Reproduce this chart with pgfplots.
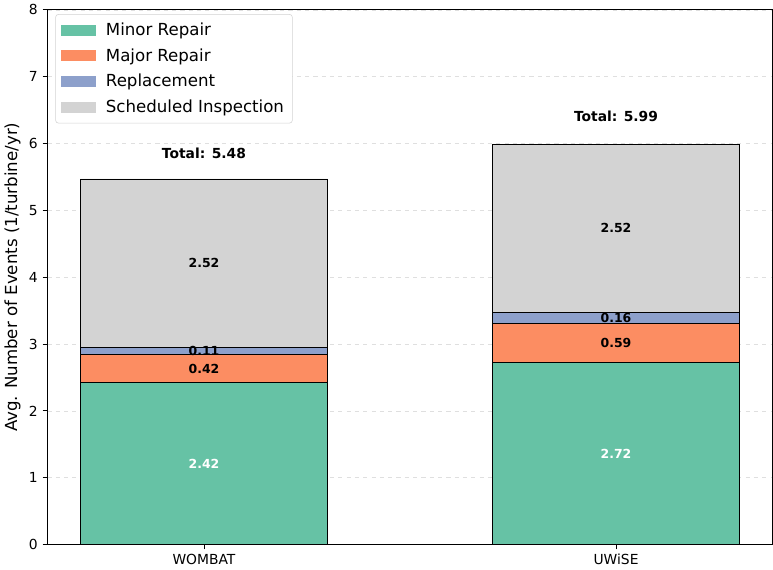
\documentclass[border=0pt]{standalone}
\usepackage{pgfplots}
\pgfplotsset{compat=1.18}
\usepackage{fontspec}
\setmainfont{DejaVu Sans}
\definecolor{cMinor}{HTML}{66C2A5}
\definecolor{cMajor}{HTML}{FC8D62}
\definecolor{cRepl}{HTML}{8DA0CB}
\definecolor{cSched}{HTML}{D3D3D3}
\tikzset{vlab/.style={font=\fontsize{9}{10}\selectfont\bfseries},
         tlab/.style={font=\fontsize{10}{12}\selectfont\bfseries}}
\begin{document}
\begin{tikzpicture}
\begin{axis}[
  scale only axis,
  width=523.5pt, height=386pt,
  ybar stacked,
  bar width=0.6,
  xmin=-0.38, xmax=1.38,
  ymin=0, ymax=8,
  xtick=data,
  xticklabels={WOMBAT,UWiSE},
  ytick={0,1,...,8},
  tick align=outside,
  xtick pos=bottom, ytick pos=left,
  major tick length=3.5pt,
  tick style={black, line width=0.6pt},
  axis line style={line width=0.6pt},
  ticklabel style={font=\fontsize{10}{12}\selectfont},
  /pgf/number format/assume math mode=true,
  ylabel={Avg. Number of Events (1/turbine/yr)},
  ylabel style={font=\fontsize{12}{14}\selectfont, yshift=-1pt},
  ymajorgrids,
  grid style={dashed, gray!25, line width=0.5pt},
  legend style={at={(0.011,0.992)}, anchor=north west, draw=gray!35, rounded corners=2pt,
    font=\fontsize{12}{14}\selectfont, row sep=4pt, inner xsep=4pt, inner ysep=4pt},
  legend cell align=left,
  legend image code/.code={\fill[#1, draw=none, sharp corners] (0pt,-4pt) rectangle (25pt,4pt); \path (30pt,0pt);},
]
\addplot[fill=cMinor, draw=black, line width=0.6pt] coordinates {(0,2.42) (1,2.72)};
\addplot[fill=cMajor, draw=black, line width=0.6pt] coordinates {(0,0.42) (1,0.59)};
\addplot[fill=cRepl, draw=black, line width=0.6pt] coordinates {(0,0.11) (1,0.16)};
\addplot[fill=cSched, draw=black, line width=0.6pt] coordinates {(0,2.52) (1,2.52)};
\legend{Minor Repair, Major Repair, Replacement, Scheduled Inspection}
\coordinate (a1) at (axis cs:0,1.21);
\coordinate (a2) at (axis cs:0,2.63);
\coordinate (a3) at (axis cs:0,2.895);
\coordinate (a4) at (axis cs:0,4.21);
\coordinate (b1) at (axis cs:1,1.36);
\coordinate (b2) at (axis cs:1,3.015);
\coordinate (b3) at (axis cs:1,3.39);
\coordinate (b4) at (axis cs:1,4.73);
\coordinate (ta) at (axis cs:0,5.86);
\coordinate (tb) at (axis cs:1,6.41);
\end{axis}
\node[vlab, white] at (a1) {2.42};
\node[vlab] at (a2) {0.42};
\node[vlab] at (a3) {0.11};
\node[vlab] at (a4) {2.52};
\node[vlab, white] at (b1) {2.72};
\node[vlab] at (b2) {0.59};
\node[vlab] at (b3) {0.16};
\node[vlab] at (b4) {2.52};
\node[tlab] at (ta) {Total: 5.48};
\node[tlab] at (tb) {Total: 5.99};
\end{tikzpicture}
\end{document}
